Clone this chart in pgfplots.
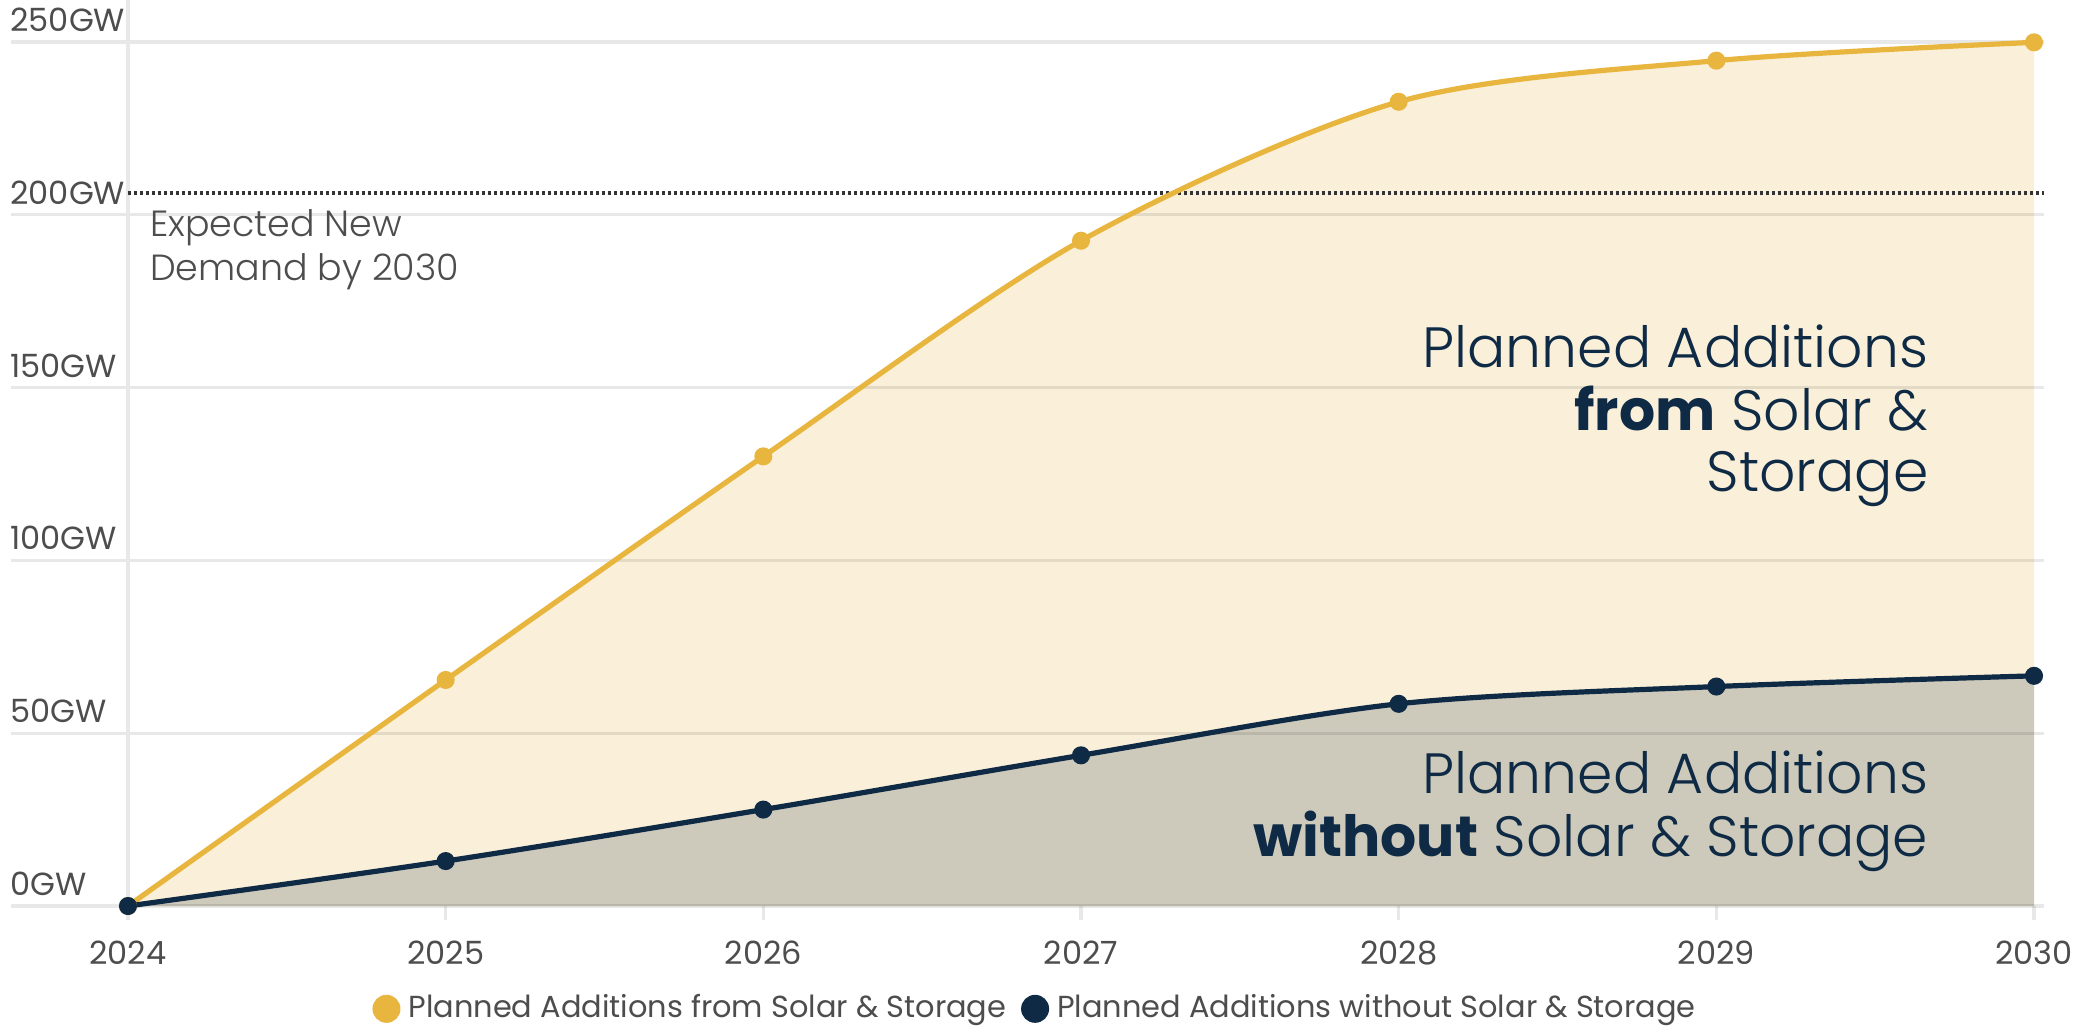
\documentclass[border=0pt]{standalone}
\usepackage{pgfplots}
\pgfplotsset{compat=1.18}
\usepackage{fontspec}
\setmainfont{Poppins}
\newfontfamily\lightfont{Poppins Light}
\definecolor{gold}{RGB}{232,182,62}
\definecolor{cream}{RGB}{250,240,217}
\definecolor{navy}{RGB}{15,42,69}
\definecolor{grayfill}{RGB}{205,202,187}
\definecolor{textgray}{RGB}{77,77,77}
\definecolor{dotgray}{RGB}{51,51,51}
\definecolor{gridgray}{RGB}{232,232,232}
\begin{document}
\begin{tikzpicture}
\begin{axis}[
  scale only axis,
  width=476.5pt, height=216pt,
  xmin=2024, xmax=2030, ymin=0, ymax=250,
  clip=false,
  axis x line*=bottom, axis y line*=left,
  axis line style={draw=none},
  xtick={2024,2025,2026,2027,2028,2029,2030},
  xticklabels={2024,2025,2026,2027,2028,2029,2030},
  ytick={0,50,100,150,200,250},
  yticklabels={0GW,50GW,100GW,150GW,200GW,250GW},
  ytick style={draw=none},
  xtick style={draw=gridgray, line width=0.8pt},
  major tick length=3.5pt, tick align=outside,
  tick label style={font=\fontsize{8}{9.5}\selectfont, text=textgray},
  xticklabel style={anchor=north, inner sep=0pt, yshift=-5.0pt},
  yticklabel style={anchor=south west, inner sep=0pt, xshift=-26.1pt, yshift=2.4pt},
  /pgf/number format/assume math mode=true,
  legend style={at={(0.4775,-0.119)}, anchor=center, draw=none, fill=none,
    legend columns=2, font=\fontsize{7.6}{9}\selectfont, text=textgray,
    inner sep=0pt, /tikz/every even column/.append style={column sep=1.7pt}},
]
% areas
\addplot[draw=none, fill=cream, smooth, forget plot] coordinates {
 (2024,0) (2025,65.4) (2026,130.1) (2027,192.5) (2028,232.7) (2029,244.6) (2030,249.9)} \closedcycle;
\addplot[draw=none, fill=grayfill, smooth, forget plot] coordinates {
 (2024,0) (2025,13.0) (2026,27.9) (2027,43.6) (2028,58.5) (2029,63.5) (2030,66.6)} \closedcycle;
% gridlines
\foreach \v in {0,50,100,150,200,250} {
  \edef\tmp{\noexpand\draw[black, opacity=0.09, line width=0.8pt] ([xshift=-29.2pt]axis cs:2024,\v) -- ([xshift=2.5pt]axis cs:2030,\v);}\tmp
}
\draw[gridgray, line width=0.8pt] ([yshift=-3.5pt]axis cs:2024,0) -- ([yshift=10.5pt]axis cs:2024,250);
% demand line
\draw[dotgray, line width=0.8pt, dash pattern=on 0.8pt off 0.7pt] (axis cs:2024,206.3) -- ([xshift=2.5pt]axis cs:2030,206.3);
\node[anchor=base west, inner sep=0pt, font=\lightfont\fontsize{9.1}{10}\selectfont, text=textgray] at ([xshift=5.3pt]axis cs:2024,193.6) {Expected New};
\node[anchor=base west, inner sep=0pt, font=\lightfont\fontsize{9.1}{10}\selectfont, text=textgray] at ([xshift=5.3pt]axis cs:2024,181.1) {Demand by 2030};
% lines
\addplot[gold, line width=1.3pt, smooth, mark=*, mark size=1.6pt, mark options={fill=gold, draw=gold}, forget plot] coordinates {
 (2024,0) (2025,65.4) (2026,130.1) (2027,192.5) (2028,232.7) (2029,244.6) (2030,249.9)};
\addplot[navy, line width=1.3pt, smooth, mark=*, mark size=1.6pt, mark options={fill=navy, draw=navy}, forget plot] coordinates {
 (2024,0) (2025,13.0) (2026,27.9) (2027,43.6) (2028,58.5) (2029,63.5) (2030,66.6)};
% annotations
\node[anchor=base east, inner sep=0pt, font=\lightfont\fontsize{14.2}{16}\selectfont, text=navy] at (axis cs:2029.67,155.7) {Planned Additions};
\node[anchor=base east, inner sep=0pt, font=\lightfont\fontsize{14.2}{16}\selectfont, text=navy] at (axis cs:2029.67,137.7) {{\normalfont\bfseries from} Solar \&};
\node[anchor=base east, inner sep=0pt, font=\lightfont\fontsize{14.2}{16}\selectfont, text=navy] at (axis cs:2029.67,119.8) {Storage};
\node[anchor=base east, inner sep=0pt, font=\lightfont\fontsize{14.2}{16}\selectfont, text=navy] at (axis cs:2029.67,32.5) {Planned Additions};
\node[anchor=base east, inner sep=0pt, font=\lightfont\fontsize{14.2}{16}\selectfont, text=navy] at (axis cs:2029.67,14.2) {{\normalfont\bfseries without} Solar \& Storage};
% legend
\addlegendimage{legend image code/.code={\fill[gold] (0pt,0pt) circle (3.3pt);}}
\addlegendentry{Planned Additions from Solar \& Storage}
\addlegendimage{legend image code/.code={\fill[navy] (0pt,0pt) circle (3.3pt);}}
\addlegendentry{Planned Additions without Solar \& Storage}
\coordinate (bl) at (rel axis cs:0,0);
\coordinate (tr) at (rel axis cs:1,1);
\end{axis}
\pgfresetboundingbox
\path ([shift={(-32pt,-30.25pt)}]bl) rectangle ([shift={(10pt,10.5pt)}]tr);
\end{tikzpicture}
\end{document}
